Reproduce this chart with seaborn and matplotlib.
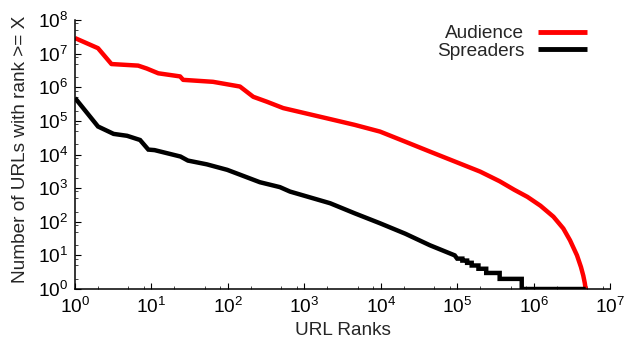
import matplotlib
matplotlib.use("Agg")
import matplotlib.pyplot as plt
import matplotlib.ticker as mticker
import seaborn as sns
import pandas as pd

# ---- data ----
aud_rank = [1, 2, 3, 6.7, 8.7, 12.3, 23.7, 26, 64, 144, 215, 325, 530,
            2180, 4570, 9800, 2.1e4, 4.4e4, 9.3e4, 2.0e5, 3.6e5, 5.6e5, 8.3e5,
            1.23e6, 1.82e6, 2.45e6, 3.0e6, 3.7e6, 4.17e6, 4.47e6, 4.68e6, 4.8e6]
aud_count = [2.9e7, 1.45e7, 4.9e6, 4.4e6, 3.6e6, 2.6e6, 2.1e6, 1.66e6, 1.45e6,
             1.05e6, 5.2e5, 3.7e5, 2.4e5, 1.13e5, 7.6e4, 4.8e4, 2.4e4, 1.22e4,
             6.2e3, 3.1e3, 1.6e3, 890, 550, 300, 141, 63, 28, 10, 4.5, 2.5, 1.5, 1]

spr_rank = [1, 2, 3.2, 4.8, 7.1, 9.1, 11, 24, 30, 53, 98, 145, 262, 480, 650,
            2180, 4570, 9800, 2.1e4, 4.4e4, 9.3e4, 1.0e5,
            1.17e5, 1.17e5, 1.35e5, 1.35e5, 1.55e5, 1.55e5, 1.9e5, 1.9e5,
            2.4e5, 2.4e5, 3.6e5, 3.6e5, 7.0e5, 7.0e5, 4.8e6]
spr_count = [4.8e5, 6.8e4, 4.1e4, 3.6e4, 2.7e4, 1.4e4, 1.35e4, 8.7e3, 6.6e3,
             5.1e3, 3.5e3, 2.5e3, 1.5e3, 1070, 790,
             355, 178, 90, 44, 20, 10, 8,
             8, 7, 7, 6, 6, 5, 5, 4,
             4, 3, 3, 2, 2, 1, 1]

x_ticks = [1e0, 1e1, 1e2, 1e3, 1e4, 1e5, 1e6, 1e7]
y_ticks = [1e0, 1e1, 1e2, 1e3, 1e4, 1e5, 1e6, 1e7, 1e8]

series_names = ["Audience", "Spreaders"]
series_colors = ["#ff0000", "#000000"]
x_label = "URL Ranks"
y_label = "Number of URLs with rank >= X"

# ---- style ----
sns.set_style("ticks")
plt.rcParams["font.family"] = ["Liberation Sans", "DejaVu Sans"]
plt.rcParams["mathtext.fontset"] = "custom"
plt.rcParams["mathtext.rm"] = "Liberation Sans"
plt.rcParams["mathtext.it"] = "Liberation Sans:italic"
plt.rcParams["mathtext.bf"] = "Liberation Sans:bold"

fig = plt.figure(figsize=(6.39, 3.44), dpi=100)
ax = fig.add_axes([75 / 639, 55 / 344, 535 / 639, 269 / 344])

df_a = pd.DataFrame({"rank": aud_rank, "count": aud_count})
df_s = pd.DataFrame({"rank": spr_rank, "count": spr_count})

sns.lineplot(data=df_a, x="rank", y="count", ax=ax, color=series_colors[0],
             lw=3.2, sort=False, estimator=None, label=series_names[0],
             solid_capstyle="butt", solid_joinstyle="round")
sns.lineplot(data=df_s, x="rank", y="count", ax=ax, color=series_colors[1],
             lw=3.2, sort=False, estimator=None, label=series_names[1],
             solid_capstyle="butt", solid_joinstyle="miter")

ax.set_xscale("log")
ax.set_yscale("log")
ax.set_xlim(x_ticks[0], x_ticks[-1])
ax.set_ylim(y_ticks[0], y_ticks[-1])

ax.xaxis.set_major_locator(mticker.FixedLocator(x_ticks))
ax.yaxis.set_major_locator(mticker.FixedLocator(y_ticks))
ax.xaxis.set_major_formatter(mticker.LogFormatterSciNotation())
ax.yaxis.set_major_formatter(mticker.LogFormatterSciNotation())
ax.xaxis.set_minor_locator(mticker.LogLocator(base=10, subs=(2, 5, 8), numticks=20))
ax.yaxis.set_minor_locator(mticker.LogLocator(base=10, subs=(2, 5, 8), numticks=20))
ax.xaxis.set_minor_formatter(mticker.NullFormatter())
ax.yaxis.set_minor_formatter(mticker.NullFormatter())

ax.tick_params(which="major", direction="in", length=4, width=0.8,
               labelsize=13.7, colors="black")
ax.tick_params(axis="x", which="major", pad=6)
ax.tick_params(axis="y", which="major", pad=5)
ax.tick_params(which="minor", direction="in", length=2.2, width=0.6)

for s in ["top", "right"]:
    ax.spines[s].set_visible(False)
for s in ["left", "bottom"]:
    ax.spines[s].set_linewidth(1.1)
    ax.spines[s].set_color("black")

ax.set_xlabel(x_label, fontsize=13.7, labelpad=3)
ax.set_ylabel(y_label, fontsize=13.7)
ax.yaxis.set_label_coords((29 - 75) / 535, (289 - 149) / 269)

leg = ax.legend(loc="upper right", bbox_to_anchor=(587 / 639, 1 - 25 / 344),
                bbox_transform=fig.transFigure, frameon=False, markerfirst=False,
                fontsize=13.7, labelspacing=0.0, handlelength=2.6,
                handletextpad=0.7, borderpad=0, borderaxespad=0)
for line in leg.get_lines():
    line.set_linewidth(3.5)
    line.set_solid_capstyle("butt")

fig.savefig("out.png", dpi=100)
